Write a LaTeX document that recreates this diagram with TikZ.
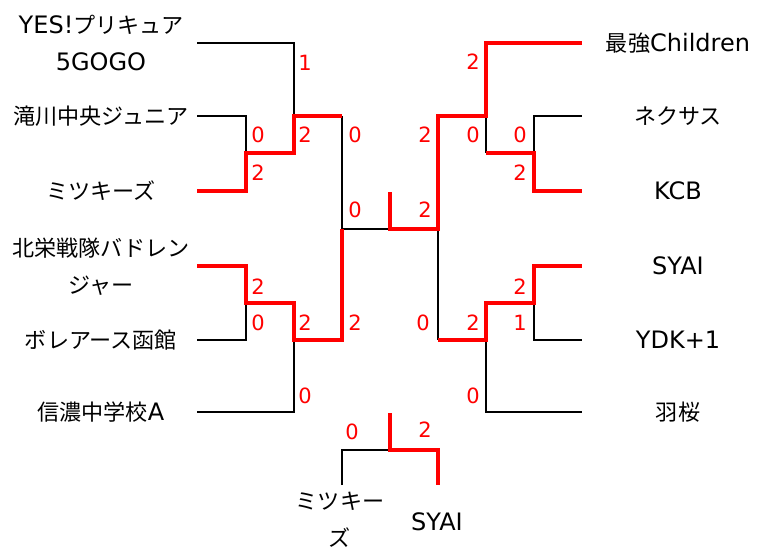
\documentclass[tikz,border=0pt]{standalone}
\usepackage{fontspec}
\setmainfont{DejaVu Sans}
\newfontfamily\cjk{Noto Sans CJK JP}[Scale=0.92]
\begin{document}
\begin{tikzpicture}[x=1pt,y=-1pt,
  loss/.style={line width=2.5pt, black, line join=miter},
  win/.style={line width=4pt, red, line join=miter},
  team/.style={inner sep=0pt, font=\fontsize{24}{37}\selectfont, align=center},
  score/.style={inner sep=0pt, text=red, font=\fontsize{21}{21}\selectfont}]
\useasboundingbox (0,0) rectangle (758,551);
% team names
\node[team] (t1) at (101,43) {YES!{\cjk プリキュア}\\5GOGO};
\node[team] (t2) at (101,116) {{\cjk 滝川中央ジュニア}};
\node[team] (t3) at (101,191) {{\cjk ミツキーズ}};
\node[team] (t4) at (101,267) {{\cjk 北栄戦隊バドレン}\\{\cjk ジャー}};
\node[team] (t5) at (101,340) {{\cjk ボレアース函館}};
\node[team] (t6) at (101,412) {{\cjk 信濃中学校}A};
\node[team] (u1) at (678,43) {{\cjk 最強}Children};
\node[team] (u2) at (678,116) {{\cjk ネクサス}};
\node[team] (u3) at (678,191) {KCB};
\node[team] (u4) at (678,266) {SYAI};
\node[team] (u5) at (678,340) {YDK+1};
\node[team] (u6) at (678,412) {{\cjk 羽桜}};
\node[team] (b1) at (340,520) {{\cjk ミツキー}\\{\cjk ズ}};
\node[team] (b2) at (437,522) {SYAI};
% leaf ends
\coordinate (la1) at (197,43);
\coordinate (la2) at (197,116);
\coordinate (la3) at (197,191);
\coordinate (la4) at (197,266);
\coordinate (la5) at (197,340);
\coordinate (la6) at (197,412);
\coordinate (ra1) at (582,43);
\coordinate (ra2) at (582,116);
\coordinate (ra3) at (582,191);
\coordinate (ra4) at (582,266);
\coordinate (ra5) at (582,340);
\coordinate (ra6) at (582,412);
% junctions
\coordinate (ql1) at (246,153);
\coordinate (sl1) at (294,116);
\coordinate (ql2) at (246,303);
\coordinate (sl2) at (294,340);
\coordinate (stl) at (342,116);
\coordinate (sbl) at (342,340);
\coordinate (fl) at (342,229);
\coordinate (fstub) at (390,229);
\coordinate (champ) at (390,192);
\coordinate (fr) at (438,229);
\coordinate (str) at (438,116);
\coordinate (sbr) at (438,340);
\coordinate (sr1) at (486,116);
\coordinate (mr1) at (486,153);
\coordinate (qr1) at (534,153);
\coordinate (sr2) at (486,340);
\coordinate (qr2) at (534,303);
\coordinate (p1) at (342,485);
\coordinate (p2) at (390,450);
\coordinate (p3) at (390,413);
\coordinate (p4) at (438,485);
% losing lines
\draw[loss] (la1) -| (sl1);
\draw[loss] (la2) -| (ql1);
\draw[loss] (la5) -| (ql2);
\draw[loss] (la6) -| (sl2);
\draw[loss] (stl) -- (fl) -- (fstub);
\draw[loss] (sr1) -- (mr1);
\draw[loss] (qr1) |- (ra2);
\draw[loss] (fr) -- (sbr);
\draw[loss] (qr2) |- (ra5);
\draw[loss] (sr2) |- (ra6);
\draw[loss] (p1) |- (p2);
% winning lines
\draw[win] (la3) -| (ql1) -| (sl1) -- (stl);
\draw[win] (la4) -| (ql2) -| (sl2) -- (sbl) -- (fl);
\draw[win] (champ) -- (fstub) -- (fr) -- (str) -- (sr1) |- (ra1);
\draw[win] (mr1) -- (qr1) |- (ra3);
\draw[win] (sbr) -- (sr2) |- (qr2) |- (ra4);
\draw[win] (p3) -- (p2) -| (p4);
% scores
\node[score] (s1) at (305,63) {1};
\node[score] (s2) at (258,135) {0};
\node[score] (s3) at (305,135) {2};
\node[score] (s4) at (355,135) {0};
\node[score] (s5) at (258,173) {2};
\node[score] (s6) at (355,210) {0};
\node[score] (s7) at (258,287) {2};
\node[score] (s8) at (258,323) {0};
\node[score] (s9) at (305,323) {2};
\node[score] (s10) at (355,323) {2};
\node[score] (s11) at (305,396) {0};
\node[score] (s12) at (352,432) {0};
\node[score] (s13) at (473,62) {2};
\node[score] (s14) at (425,135) {2};
\node[score] (s15) at (473,135) {0};
\node[score] (s16) at (520,135) {0};
\node[score] (s17) at (520,173) {2};
\node[score] (s18) at (425,210) {2};
\node[score] (s19) at (520,287) {2};
\node[score] (s20) at (423,323) {0};
\node[score] (s21) at (473,323) {2};
\node[score] (s22) at (520,323) {1};
\node[score] (s23) at (473,396) {0};
\node[score] (s24) at (425,430) {2};
\end{tikzpicture}
\end{document}
